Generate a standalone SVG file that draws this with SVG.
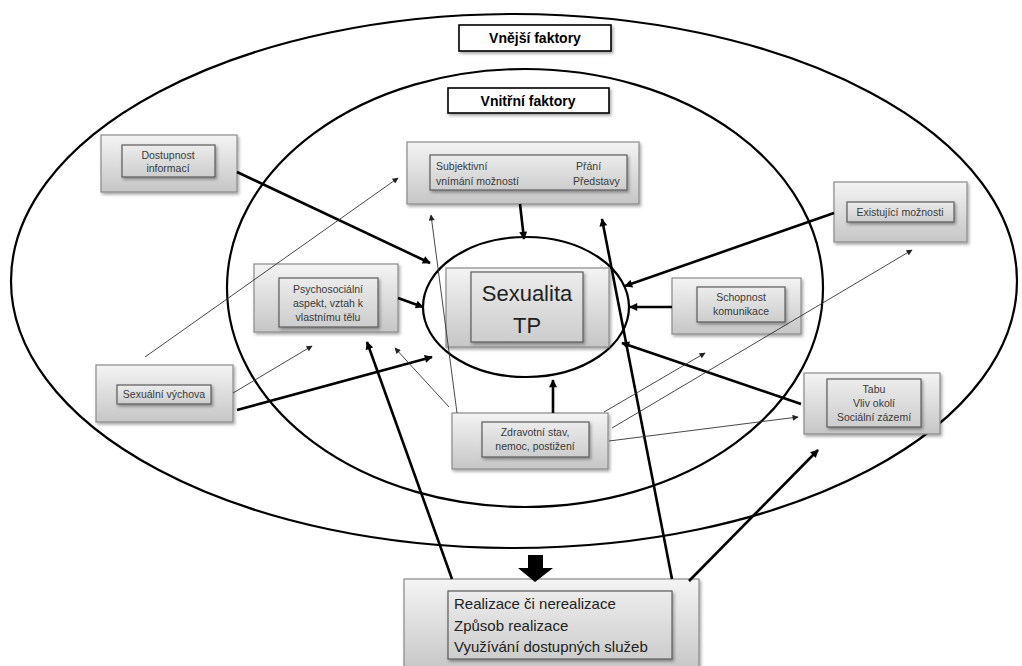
<svg xmlns="http://www.w3.org/2000/svg" width="1022" height="666" viewBox="0 0 1022 666">
<defs>
<linearGradient id="gOuter" x1="0" y1="0" x2="0" y2="1"><stop offset="0" stop-color="#f4f4f4"/><stop offset="1" stop-color="#c6c6c6"/></linearGradient>
<linearGradient id="gInner" x1="0" y1="0" x2="0" y2="1"><stop offset="0" stop-color="#ececec"/><stop offset="1" stop-color="#cdcdcd"/></linearGradient>
<filter id="sh" x="-10%" y="-10%" width="130%" height="140%"><feDropShadow dx="1.5" dy="2" stdDeviation="1.5" flood-color="#000" flood-opacity="0.35"/></filter>
<marker id="ahThick" viewBox="0 0 10 10" refX="9" refY="5" markerWidth="10" markerHeight="8" markerUnits="userSpaceOnUse" orient="auto"><path d="M0,0 L10,5 L0,10 z" fill="#000"/></marker>
<marker id="ahThin" viewBox="0 0 10 10" refX="9" refY="5" markerWidth="8" markerHeight="6" markerUnits="userSpaceOnUse" orient="auto"><path d="M0,0 L10,5 L0,10 z" fill="#222"/></marker>
</defs>
<style>
.ell{fill:none;stroke:#000;stroke-width:2.2}
.ob{fill:url(#gOuter);stroke:#8a8a8a;stroke-width:1.2;filter:url(#sh)}
.ib{fill:url(#gInner);stroke:#5a5a5a;stroke-width:1.2;filter:url(#sh)}
.tb{fill:#fff;stroke:#000;stroke-width:1.6;filter:url(#sh)}
.tt{font-family:"Liberation Sans",Arial,sans-serif;font-weight:bold;font-size:14px;fill:#000;text-anchor:middle}
.t{font-family:"Liberation Sans",Arial,sans-serif;font-size:10.5px;fill:#3a3a3a;text-anchor:middle}
.ts{font-family:"Liberation Sans",Arial,sans-serif;font-size:10.5px;fill:#3a3a3a}
.tbig{font-family:"Liberation Sans",Arial,sans-serif;font-size:22px;fill:#222;text-anchor:middle}
.tr{font-family:"Liberation Sans",Arial,sans-serif;font-size:15px;fill:#222}
.thick{stroke:#000;stroke-width:2.6;fill:none;marker-end:url(#ahThick)}
.thin{stroke:#333;stroke-width:0.9;fill:none;marker-end:url(#ahThin)}
</style>
<rect width="1022" height="666" fill="#fff"/>

<g id="ellipses">
<ellipse class="ell" cx="514" cy="281" rx="503" ry="267"/>
<ellipse class="ell" cx="525" cy="288" rx="298" ry="219"/>
</g>

<g id="title-outer"><rect class="tb" x="459" y="25" width="152" height="26"/><text class="tt" x="535" y="43">Vnější faktory</text></g>
<g id="title-inner"><rect class="tb" x="448" y="88" width="161" height="25"/><text class="tt" x="528" y="106">Vnitřní faktory</text></g>

<g id="node-dostupnost"><rect class="ob" x="101" y="135" width="136" height="57"/><rect class="ib" x="122" y="145" width="93" height="32"/><text class="t" x="168" y="159">Dostupnost</text><text class="t" x="168" y="172">informací</text></g>

<g id="node-subjektivni"><rect class="ob" x="407" y="142" width="232" height="62"/><rect class="ib" x="430" y="155" width="197" height="35"/><text class="ts" x="436" y="170">Subjektivní</text><text class="ts" x="436" y="185">vnímání možností</text><text class="ts" x="576" y="170">Přání</text><text class="ts" x="573" y="185">Představy</text></g>

<g id="node-existujici"><rect class="ob" x="834" y="182" width="133" height="60"/><rect class="ib" x="847" y="202" width="107" height="20"/><text class="t" x="900" y="216">Existující možnosti</text></g>

<g id="node-psycho"><rect class="ob" x="254" y="264" width="144" height="68"/><rect class="ib" x="279" y="278" width="99" height="49"/><text class="t" x="328" y="293">Psychosociální</text><text class="t" x="328" y="307">aspekt, vztah k</text><text class="t" x="328" y="321">vlastnímu tělu</text></g>

<g id="node-schopnost"><rect class="ob" x="672" y="278" width="129" height="56"/><rect class="ib" x="697" y="287" width="88" height="35"/><text class="t" x="741" y="301">Schopnost</text><text class="t" x="741" y="315">komunikace</text></g>

<g id="node-sexualita"><ellipse class="ell" cx="526" cy="307" rx="103" ry="70"/><rect class="ob" x="446" y="268" width="163" height="79"/><rect class="ib" x="471" y="272" width="112" height="70"/><text class="tbig" x="527" y="301">Sexualita</text><text class="tbig" x="527" y="333">TP</text></g>

<g id="node-vychova"><rect class="ob" x="96" y="365" width="137" height="57"/><rect class="ib" x="117" y="385" width="94" height="19"/><text class="t" x="164" y="398">Sexuální výchova</text></g>

<g id="node-tabu"><rect class="ob" x="804" y="373" width="136" height="61"/><rect class="ib" x="827" y="379" width="94" height="48"/><text class="t" x="874" y="393">Tabu</text><text class="t" x="874" y="407">Vliv okolí</text><text class="t" x="874" y="421">Sociální zázemí</text></g>

<g id="node-zdravotni"><rect class="ob" x="452" y="413" width="156" height="56"/><rect class="ib" x="482" y="422" width="107" height="35"/><text class="t" x="535" y="436">Zdravotní stav,</text><text class="t" x="535" y="450">nemoc, postižení</text></g>

<g id="node-realizace"><rect class="ob" x="404" y="579" width="295" height="92"/><rect class="ib" x="448" y="591" width="224" height="68"/><text class="tr" x="454" y="609">Realizace či nerealizace</text><text class="tr" x="454" y="631">Způsob realizace</text><text class="tr" x="454" y="652">Využívání dostupných služeb</text></g>

<g id="connectors">
<path class="thick" d="M237,172 L430,263"/>
<path class="thick" d="M398,298 L423,307"/>
<path class="thick" d="M520,204 L524,239"/>
<path class="thick" d="M834,213 L625,286"/>
<path class="thick" d="M672,307 L630,307"/>
<path class="thick" d="M801,404 L622,343"/>
<path class="thick" d="M237,410 L432,357"/>
<path class="thick" d="M553,413 L553,380"/>
<path class="thick" d="M452,579 L367,342"/>
<path class="thick" d="M672,579 L602,219"/>
<path class="thick" d="M689,581 L818,450"/>
<path class="thin" d="M145,357 L398,178"/>
<path class="thin" d="M233,393 L312,346"/>
<path class="thin" d="M449,407 L395,348"/>
<path class="thin" d="M457,413 L431,215"/>
<path class="thin" d="M604,412 L705,353"/>
<path class="thin" d="M612,428 L912,250"/>
<path class="thin" d="M609,441 L798,417"/>
<polygon points="528,555 543,555 543,568 553,568 535,582 518,568 528,568" fill="#000"/>
</g>
</svg>
